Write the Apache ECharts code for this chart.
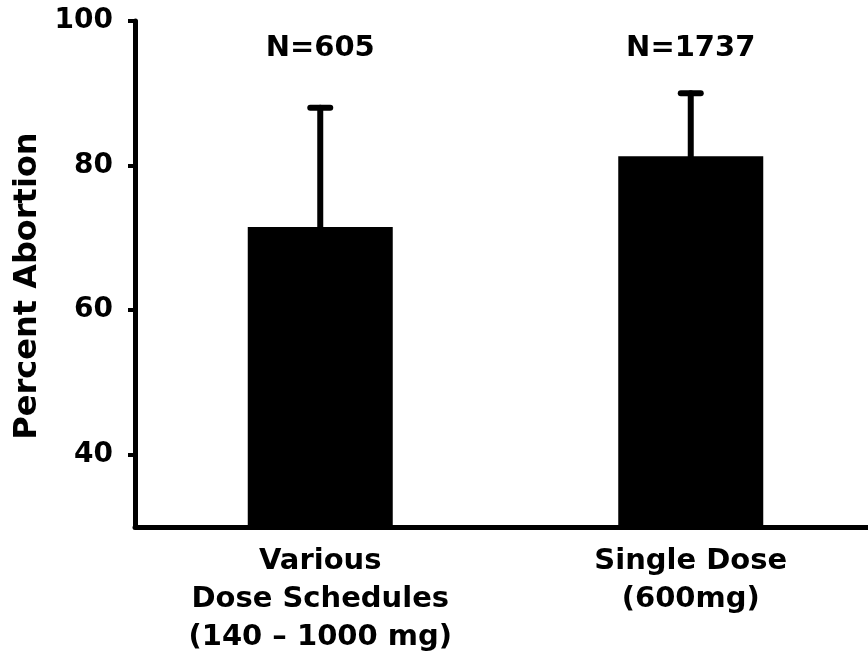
<!DOCTYPE html>
<html>
<head>
<meta charset="utf-8">
<script src="https://cdn.jsdelivr.net/npm/echarts@6/dist/echarts.min.js"></script>
<style>
  html, body { margin: 0; padding: 0; background: #fff; }
  #chart { width: 868px; height: 665px; }
</style>
</head>
<body>
<div id="chart"></div>
<script>
var categories = ['Various\nDose Schedules\n(140 – 1000 mg)', 'Single Dose\n(600mg)'];
var percentAbortion = [71.5, 81.3];
var errorUpper = [88.0, 90.0];
var sampleLabels = ['N=605', 'N=1737'];
var yTicks = [40, 60, 80, 100];

var FONT = 'DejaVu Sans';

var chart = echarts.init(document.getElementById('chart'));

var errorData = [];
for (var i = 0; i < categories.length; i++) {
    errorData.push([i, percentAbortion[i], errorUpper[i]]);
}

function renderError(params, api) {
    var idx = api.value(0);
    var low = api.coord([idx, api.value(1)]);
    var high = api.coord([idx, api.value(2)]);
    var capHalf = 10;
    var style = { stroke: '#000', lineWidth: 6, lineCap: 'round' };
    return {
        type: 'group',
        children: [
            { type: 'line', shape: { x1: high[0], y1: low[1], x2: high[0], y2: high[1] }, style: style },
            { type: 'line', shape: { x1: high[0] - capHalf, y1: high[1], x2: high[0] + capHalf, y2: high[1] }, style: style },
            {
                type: 'text',
                x: high[0],
                y: 48,
                style: {
                    text: sampleLabels[idx],
                    font: 'bold 29px "' + FONT + '"',
                    fill: '#000',
                    align: 'center',
                    verticalAlign: 'middle'
                }
            }
        ]
    };
}

var option = {
    animation: false,
    backgroundColor: '#fff',
    grid: {
        left: 135,
        right: -8,
        top: 21,
        bottom: 138,
        containLabel: false,
        outerBoundsMode: 'none'
    },
    xAxis: {
        type: 'category',
        data: categories,
        axisLine: { show: true, lineStyle: { color: '#000', width: 5 } },
        axisTick: { show: false },
        axisLabel: {
            color: '#000',
            fontFamily: FONT,
            fontWeight: 'bold',
            fontSize: 29,
            lineHeight: 38,
            margin: 15,
            interval: 0
        },
        splitLine: { show: false }
    },
    yAxis: {
        type: 'value',
        min: 30,
        max: 100,
        name: 'Percent Abortion',
        nameLocation: 'middle',
        nameGap: 87,
        nameRotate: 90,
        nameTextStyle: {
            color: '#000',
            fontFamily: FONT,
            fontWeight: 'bold',
            fontSize: 32,
            padding: [0, 24, 0, 0]
        },
        axisLine: { show: true, lineStyle: { color: '#000', width: 5 } },
        axisTick: {
            show: true,
            length: 7,
            customValues: yTicks,
            lineStyle: { color: '#000', width: 4 }
        },
        axisLabel: {
            color: '#000',
            fontFamily: FONT,
            fontWeight: 'bold',
            fontSize: 28,
            margin: 22,
            customValues: yTicks
        },
        splitLine: { show: false }
    },
    series: [
        {
            type: 'bar',
            data: percentAbortion,
            barWidth: 145,
            itemStyle: { color: '#000' },
            z: 2
        },
        {
            type: 'custom',
            data: errorData,
            renderItem: renderError,
            z: 3
        }
    ]
};

chart.setOption(option);
</script>
</body>
</html>
